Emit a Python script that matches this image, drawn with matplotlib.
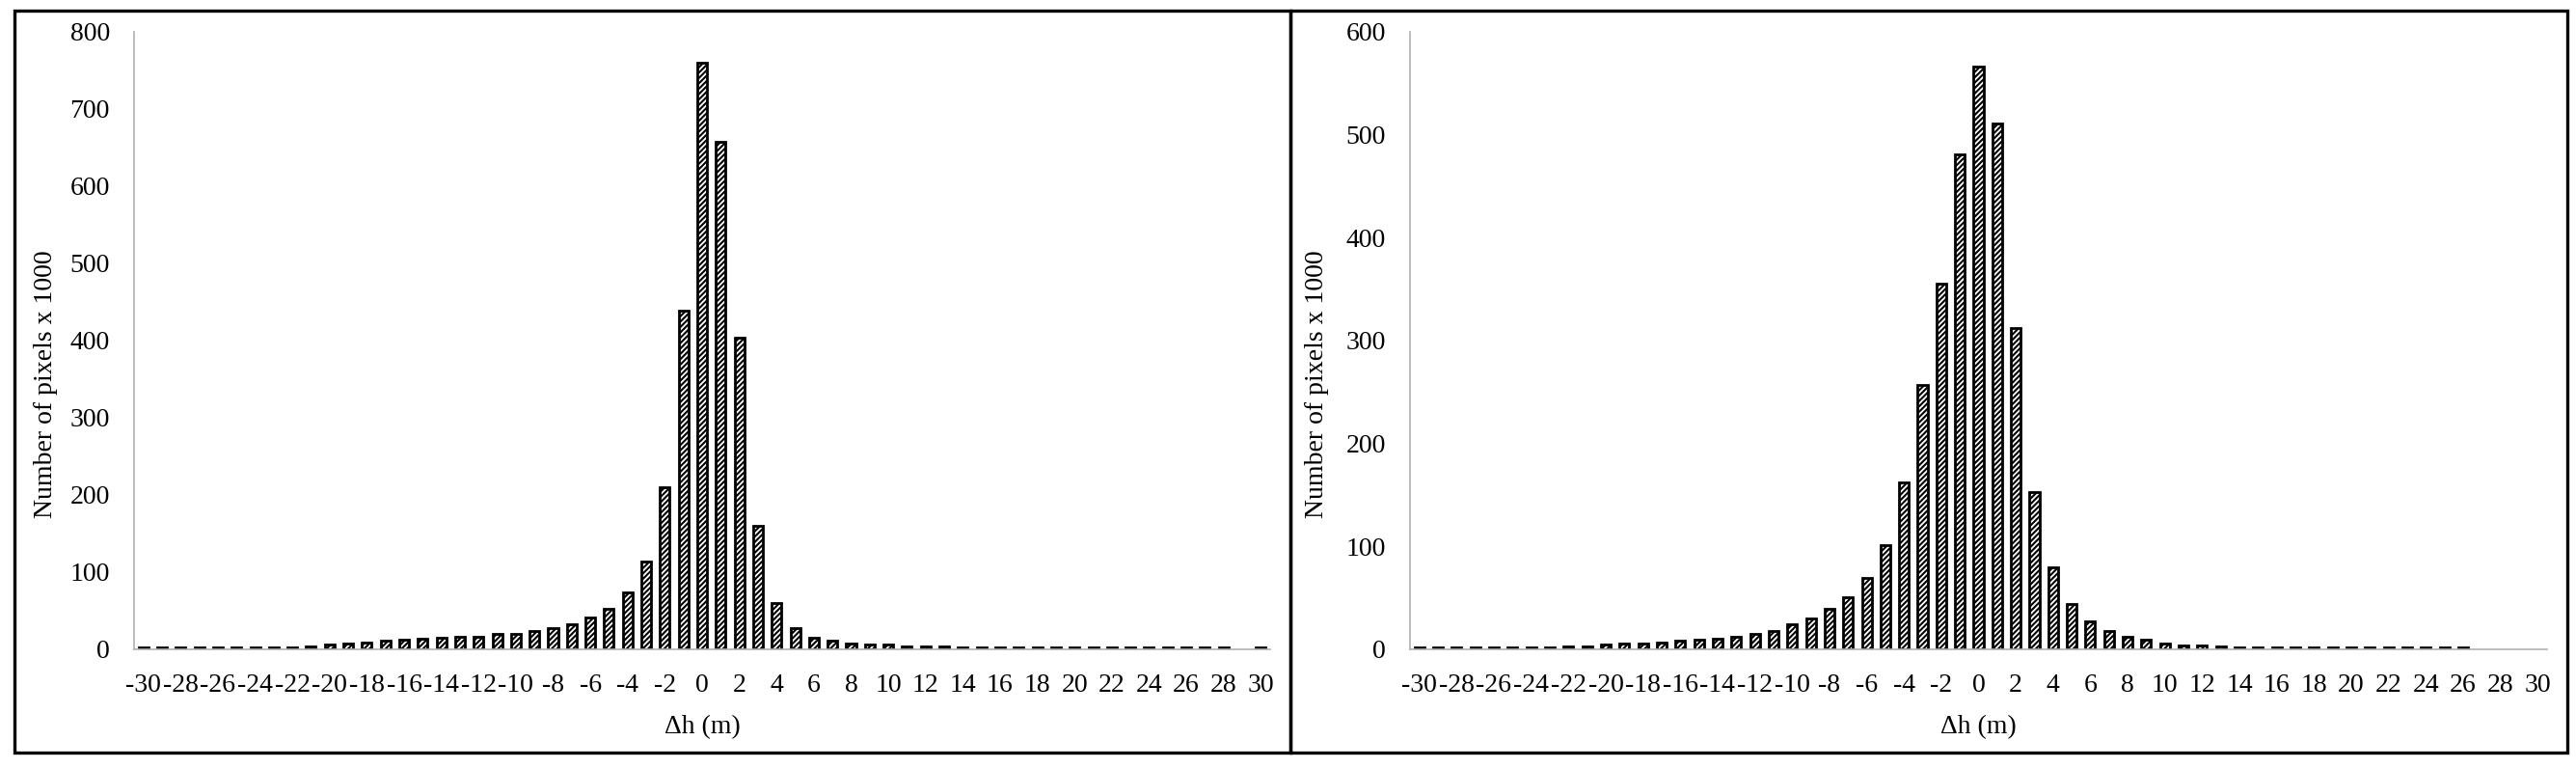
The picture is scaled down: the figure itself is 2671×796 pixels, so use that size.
import matplotlib
matplotlib.use('Agg')
import matplotlib.pyplot as plt
from matplotlib.patches import Rectangle

plt.rcParams['font.family'] = ['Liberation Serif', 'DejaVu Serif']
plt.rcParams['hatch.linewidth'] = 1.5

# delta h classes (m)
dh = list(range(-30, 31))

# number of pixels x 1000, left panel
left_counts = [2, 2, 2, 2, 2, 2, 2, 2, 2,
               4, 6, 8, 9, 11, 12, 14, 15, 16, 16, 20, 20, 24, 27, 32, 41, 53, 74, 114, 210,
               439, 760, 657, 404, 160, 60, 27, 15, 11, 8, 6, 6, 4, 4, 4,
               2, 2, 2, 2, 2, 2, 2, 2, 2, 2, 2, 2, 2, 2, 2,
               0, 2]

# number of pixels x 1000, right panel
right_counts = [2, 2, 2, 2, 2, 2, 2, 2,
                3, 3, 5, 6, 6, 7, 8, 9, 10, 12, 15, 18, 24, 30, 39, 51, 69, 101, 162, 257, 355,
                481, 566, 511, 312, 153, 80, 44, 27, 18, 12, 9, 6, 4, 4, 3,
                2, 2, 2, 2, 2, 2, 2, 2, 2, 2, 2, 2, 2,
                0, 0, 0, 0]

left_ylim = 800
right_ylim = 600

W, H = 2671, 796
fig = plt.figure(figsize=(W / 100, H / 100), dpi=100)


def draw_panel(ax, counts, ymax):
    # empty classes get no outline
    lws = [2.0 if c > 0 else 0 for c in counts]
    ax.bar(dh, counts, width=0.52, color='white', edgecolor='black',
           linewidth=lws, hatch='//////')
    ax.set_xlim(-30.5, 30.5)
    ax.set_ylim(0, ymax)
    ax.set_yticks(range(0, ymax + 1, 100))
    ax.set_xticks(range(-30, 31, 2))
    ax.set_xticklabels([str(v) for v in range(-30, 31, 2)])
    ax.tick_params(axis='both', length=0, labelsize=20)
    ax.tick_params(axis='y', pad=18)
    ax.tick_params(axis='x', pad=18)
    for s in ['top', 'right']:
        ax.spines[s].set_visible(False)
    for s in ['left', 'bottom']:
        ax.spines[s].set_color('#b0b0b0')
        ax.spines[s].set_linewidth(1.2)
    ax.set_xlabel('Δh (m)', fontsize=20, labelpad=13)
    ax.set_ylabel('Number of pixels x 1000', fontsize=20)


# axes boxes in pixels: left, right, bottom(y of 0), top
ax1 = fig.add_axes([139 / W, 1 - 673 / H, (1317 - 139) / W, (673 - 33) / H])
ax2 = fig.add_axes([1462 / W, 1 - 673 / H, (2641 - 1462) / W, (673 - 33) / H])

draw_panel(ax1, left_counts, left_ylim)
draw_panel(ax2, right_counts, right_ylim)

# ylabel anchor is the right edge of the rotated text
ax1.yaxis.set_label_coords((60 - 139) / (1317 - 139), 0.43)
ax2.yaxis.set_label_coords((1378 - 1462) / (2641 - 1462), 0.43)

# panel frames
for x0, x1 in [(15, 1338), (1338, 2662)]:
    fig.patches.append(Rectangle((x0 / W, 1 - 780 / H), (x1 - x0) / W, (780 - 11) / H,
                                 transform=fig.transFigure, fill=False,
                                 edgecolor='black', linewidth=2.4))

fig.savefig('out.png', dpi=100)
